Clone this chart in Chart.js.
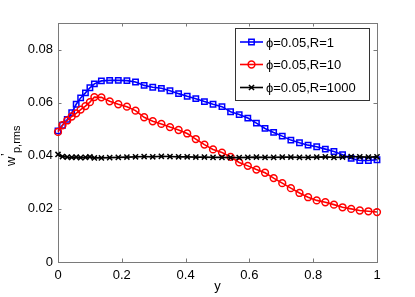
<!DOCTYPE html>
<html>
<head>
<meta charset="utf-8">
<script src="https://cdn.jsdelivr.net/npm/chart.js@4"></script>
<style>
	html, body { margin: 0; padding: 0; background: #fff; }
	#wrap { width: 415px; height: 297px; }
</style>
</head>
<body>
<div id="wrap"><canvas id="chart"></canvas></div>
<script>
const xValues = [0, 0.014, 0.029, 0.043, 0.057, 0.071, 0.086, 0.1, 0.114,
	0.136, 0.162, 0.189, 0.216, 0.243, 0.27, 0.297, 0.324, 0.351, 0.378,
	0.405, 0.432, 0.459, 0.486, 0.514, 0.541, 0.568, 0.595, 0.622, 0.649,
	0.676, 0.703, 0.73, 0.757, 0.784, 0.811, 0.838, 0.865, 0.892, 0.919,
	0.946, 0.973, 1.0];
const r1Values = [0.0494, 0.0515, 0.0537, 0.0562, 0.0594, 0.0618, 0.0637, 0.0656, 0.0671,
	0.0682, 0.0684, 0.0684, 0.0683, 0.0678, 0.0665, 0.0658, 0.0654, 0.0645, 0.0634,
	0.0624, 0.0615, 0.0604, 0.0594, 0.0585, 0.0566, 0.0555, 0.0542, 0.0523, 0.0503,
	0.0488, 0.0474, 0.0459, 0.0449, 0.044, 0.0434, 0.0425, 0.0416, 0.0404, 0.039,
	0.0382, 0.0382, 0.0385];
const r10Values = [0.049, 0.0515, 0.0533, 0.0548, 0.056, 0.0574, 0.0587, 0.0602, 0.0621,
	0.062, 0.0605, 0.0594, 0.0585, 0.057, 0.0545, 0.053, 0.052, 0.0508, 0.0497,
	0.0484, 0.0463, 0.0442, 0.0424, 0.0412, 0.0396, 0.0375, 0.0362, 0.0348, 0.0336,
	0.0316, 0.0297, 0.0278, 0.026, 0.0244, 0.0232, 0.0225, 0.0216, 0.0206, 0.02,
	0.0194, 0.0191, 0.0188];
const r1000Values = [0.0405, 0.0397, 0.0395, 0.0394, 0.0395, 0.0393, 0.0394, 0.0396, 0.0392,
	0.0392, 0.0393, 0.0394, 0.0395, 0.0396, 0.0397, 0.0396, 0.0398, 0.0397, 0.0396,
	0.0396, 0.0395, 0.0395, 0.0394, 0.0394, 0.0393, 0.0393, 0.0394, 0.0395, 0.0394,
	0.0394, 0.0395, 0.0395, 0.0394, 0.0394, 0.0395, 0.0396, 0.0394, 0.0395, 0.0397,
	0.0396, 0.0395, 0.0396];
const seriesLabels = ['\u03d5=0.05,R=1', '\u03d5=0.05,R=10', '\u03d5=0.05,R=1000'];
const xTicks = [0, 0.2, 0.4, 0.6, 0.8, 1];
const yTicks = [0, 0.02, 0.04, 0.06, 0.08];

const FONT = "'Liberation Sans', Arial, sans-serif";

function points(values) {
	return xValues.map((x, i) => ({ x: x, y: values[i] }));
}

function series(label, values, color, style, radius, order) {
	return {
		label: label,
		data: points(values),
		showLine: true,
		borderColor: color,
		backgroundColor: 'rgba(0,0,0,0)',
		borderWidth: 1.6,
		pointStyle: style,
		pointRadius: radius,
		pointBorderColor: color,
		pointBackgroundColor: 'rgba(0,0,0,0)',
		pointBorderWidth: 1.5,
		clip: false,
		order: order,
	};
}

const matlabAxes = {
	id: 'matlabAxes',
	beforeDatasetsDraw(chart) {
		const ctx = chart.ctx;
		const a = chart.chartArea;
		const xs = chart.scales.x;
		const ys = chart.scales.y;
		const len = 3.5;
		ctx.save();
		ctx.strokeStyle = '#7a7a7a';
		ctx.lineWidth = 1;
		ctx.strokeRect(Math.round(a.left) + 0.5, Math.round(a.top) + 0.5,
			Math.round(a.right - a.left), Math.round(a.bottom - a.top));
		ctx.beginPath();
		xTicks.forEach(v => {
			const px = Math.round(xs.getPixelForValue(v)) + 0.5;
			ctx.moveTo(px, a.bottom); ctx.lineTo(px, a.bottom - len);
			ctx.moveTo(px, a.top); ctx.lineTo(px, a.top + len);
		});
		yTicks.forEach(v => {
			const py = Math.round(ys.getPixelForValue(v)) + 0.5;
			ctx.moveTo(a.left, py); ctx.lineTo(a.left + len, py);
			ctx.moveTo(a.right, py); ctx.lineTo(a.right - len, py);
		});
		ctx.stroke();
		ctx.restore();
	},
	afterDraw(chart) {
		const ctx = chart.ctx;
		const a = chart.chartArea;
		ctx.save();
		ctx.fillStyle = '#000';
		// x title
		ctx.font = '13px ' + FONT;
		ctx.textAlign = 'center';
		ctx.textBaseline = 'middle';
		ctx.fillText('y', (a.left + a.right) / 2, 286);
		// y title w'_{p,rms}
		ctx.save();
		ctx.translate(15, 166);
		ctx.rotate(-Math.PI / 2);
		ctx.textAlign = 'left';
		ctx.textBaseline = 'alphabetic';
		ctx.font = '13px ' + FONT;
		ctx.fillText('w', 0, 0);
		ctx.fillText('\u2019', 10, -5);
		ctx.font = '11px ' + FONT;
		ctx.fillText('p,rms', 13, 5);
		ctx.restore();

		// legend box
		const bx = 235, by = 28, bw = 134, bh = 72;
		ctx.fillStyle = '#fff';
		ctx.fillRect(bx, by, bw, bh);
		ctx.strokeStyle = '#333';
		ctx.lineWidth = 1;
		ctx.strokeRect(bx + 0.5, by + 0.5, bw, bh);
		const rows = [42, 64.5, 87.5];
		chart.data.datasets.forEach((ds, i) => {
			const y = rows[i];
			ctx.strokeStyle = ds.borderColor;
			ctx.lineWidth = ds.borderWidth;
			ctx.beginPath();
			ctx.moveTo(240, y); ctx.lineTo(263, y);
			ctx.stroke();
			ctx.lineWidth = ds.pointBorderWidth;
			ctx.fillStyle = 'rgba(0,0,0,0)';
			Chart.helpers.drawPoint(ctx, {
				pointStyle: ds.pointStyle,
				radius: ds.pointRadius,
				borderWidth: ds.pointBorderWidth,
			}, 251.5, y);
			ctx.fillStyle = '#000';
			ctx.font = '13px ' + FONT;
			ctx.textAlign = 'left';
			ctx.textBaseline = 'middle';
			ctx.fillText(ds.label, 266, y + 1);
		});
		ctx.restore();
	},
};

const config = {
	type: 'scatter',
	data: {
		datasets: [
			series(seriesLabels[0], r1Values, '#0000ff', 'rect', 3.8, 2),
			series(seriesLabels[1], r10Values, '#ff0000', 'circle', 3.4, 1),
			series(seriesLabels[2], r1000Values, '#000000', 'crossRot', 3.6, 0),
		],
	},
	options: {
		responsive: true,
		maintainAspectRatio: false,
		animation: false,
		layout: {
			padding: { top: 23, right: 38, left: 0, bottom: 0 },
		},
		plugins: {
			legend: { display: false },
			tooltip: { enabled: false },
		},
		scales: {
			x: {
				type: 'linear',
				min: 0,
				max: 1,
				afterBuildTicks: s => { s.ticks = xTicks.map(v => ({ value: v })); },
				afterFit: s => { s.height = 35; },
				grid: { display: false, drawTicks: false },
				border: { display: false },
				ticks: {
					color: '#000',
					padding: 6,
					maxRotation: 0,
					font: { family: FONT, size: 13 },
					callback: v => String(v),
				},
			},
			y: {
				type: 'linear',
				min: 0,
				max: 0.09,
				afterBuildTicks: s => { s.ticks = yTicks.map(v => ({ value: v })); },
				afterFit: s => { s.width = 58; },
				grid: { display: false, drawTicks: false },
				border: { display: false },
				ticks: {
					color: '#000',
					padding: 5,
					font: { family: FONT, size: 13 },
					callback: v => String(v),
				},
			},
		},
	},
	plugins: [matlabAxes],
};

new Chart(document.getElementById('chart'), config);
</script>
</body>
</html>
